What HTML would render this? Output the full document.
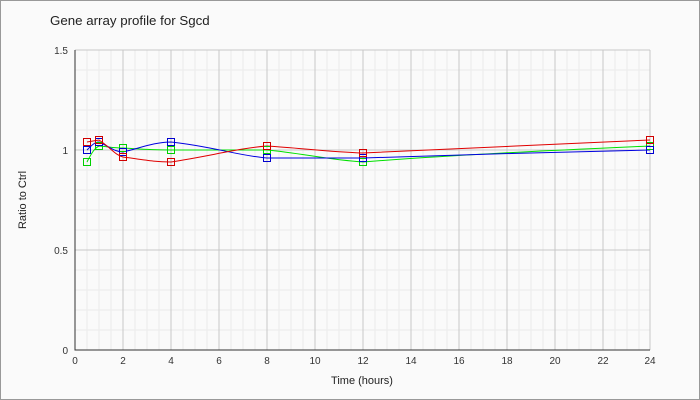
<!DOCTYPE html>
<html><head><style>body{margin:0;background:#fff}svg{display:block}</style></head><body>
<svg width="700" height="400" xmlns="http://www.w3.org/2000/svg" font-family="Liberation Sans, sans-serif">
<rect x="0.5" y="0.5" width="699" height="399" fill="#fafafa" stroke="#999"/>
<text x="50" y="25" font-size="13.3" fill="#222">Gene array profile for Sgcd</text>
<rect x="75" y="50" width="575" height="300" fill="#fafafa"/>
<g stroke="#ebebeb" stroke-width="1">
<path d="M87 50V350M99 50V350M111 50V350M135 50V350M147 50V350M159 50V350M183 50V350M195 50V350M207 50V350M231 50V350M243 50V350M255 50V350M279 50V350M291 50V350M303 50V350M327 50V350M339 50V350M351 50V350M375 50V350M387 50V350M399 50V350M423 50V350M435 50V350M447 50V350M471 50V350M483 50V350M495 50V350M519 50V350M531 50V350M543 50V350M567 50V350M579 50V350M591 50V350M615 50V350M627 50V350M639 50V350"/>
<path d="M75 70H650M75 90H650M75 110H650M75 130H650M75 170H650M75 190H650M75 210H650M75 230H650M75 270H650M75 290H650M75 310H650M75 330H650"/>
</g>
<g stroke="#c8c8c8" stroke-width="1">
<path d="M123 50V350M171 50V350M219 50V350M267 50V350M315 50V350M363 50V350M411 50V350M459 50V350M507 50V350M555 50V350M603 50V350M650 50V350"/>
<path d="M75 50H650M75 150H650M75 250H650"/>
</g>
<path d="M75 50V350H650" stroke="#333" fill="none"/>
<g font-size="10" fill="#333" text-anchor="end">
<text x="68" y="54">1.5</text><text x="68" y="154">1</text><text x="68" y="254">0.5</text><text x="68" y="354">0</text>
</g>
<g font-size="10" fill="#333" text-anchor="middle">
<text x="75" y="364">0</text><text x="123" y="364">2</text><text x="171" y="364">4</text><text x="219" y="364">6</text><text x="267" y="364">8</text><text x="315" y="364">10</text><text x="363" y="364">12</text><text x="411" y="364">14</text><text x="459" y="364">16</text><text x="507" y="364">18</text><text x="555" y="364">20</text><text x="603" y="364">22</text><text x="650" y="364">24</text>
</g>
<text x="362" y="384" font-size="11" fill="#222" text-anchor="middle">Time (hours)</text>
<text transform="translate(26,200) rotate(-90)" font-size="11" fill="#222" text-anchor="middle">Ratio to Ctrl</text>
<g fill="none" stroke-width="1">
<path d="M87 162C92 152 95 148 99 146C110 147 115 148 123 148C140 149 150 150 171 150L267 150C300 153 330 160 363 162C450 155 560 150 650 146" stroke="#00e000"/>
<path d="M87 150C92 145 95 142 99 142C110 147 115 152 123 152C140 148 155 142 171 142C210 146 240 156 267 158L363 158C450 155 560 152 650 150" stroke="#0000e0"/>
<path d="M87 142L99 140C110 147 115 155 123 157C145 160 155 162 171 162C210 156 240 148 267 146C300 148 330 152 363 153C450 149 560 144 650 140" stroke="#e00000"/>
</g>
<g fill="none" stroke-width="1">
<g stroke="#00d000"><rect x="83.5" y="158.5" width="7" height="7"/><rect x="95.5" y="142.5" width="7" height="7"/><rect x="119.5" y="144.5" width="7" height="7"/><rect x="167.5" y="146.5" width="7" height="7"/><rect x="263.5" y="146.5" width="7" height="7"/><rect x="359.5" y="158.5" width="7" height="7"/><rect x="646.5" y="142.5" width="7" height="7"/></g>
<g stroke="#0000d0"><rect x="83.5" y="146.5" width="7" height="7"/><rect x="95.5" y="138.5" width="7" height="7"/><rect x="119.5" y="148.5" width="7" height="7"/><rect x="167.5" y="138.5" width="7" height="7"/><rect x="263.5" y="154.5" width="7" height="7"/><rect x="359.5" y="154.5" width="7" height="7"/><rect x="646.5" y="146.5" width="7" height="7"/></g>
<g stroke="#d00000"><rect x="83.5" y="138.5" width="7" height="7"/><rect x="95.5" y="136.5" width="7" height="7"/><rect x="119.5" y="153.5" width="7" height="7"/><rect x="167.5" y="158.5" width="7" height="7"/><rect x="263.5" y="142.5" width="7" height="7"/><rect x="359.5" y="149.5" width="7" height="7"/><rect x="646.5" y="136.5" width="7" height="7"/></g>
</g>
</svg>
</body></html>
